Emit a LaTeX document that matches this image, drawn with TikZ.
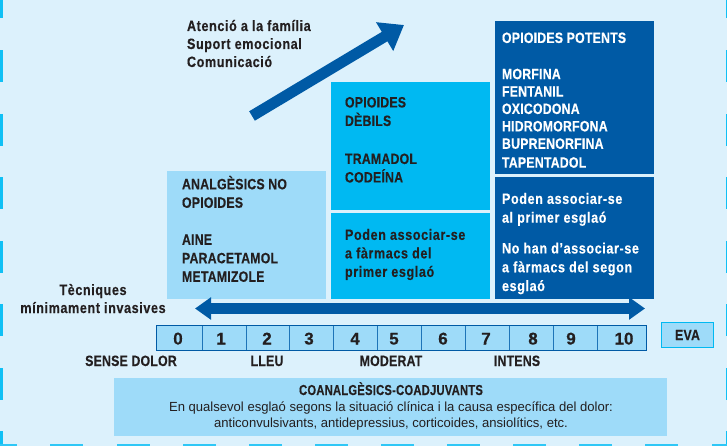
\documentclass[tikz,border=0pt]{standalone}
\usepackage{fontspec}
\setmainfont{Liberation Sans}
\newfontfamily\cond[FakeStretch=0.82,LetterSpace=1.5,BoldFeatures={FakeBold=0.3}]{Liberation Sans}
\newfontfamily\condl[FakeStretch=0.84,LetterSpace=4,BoldFeatures={FakeBold=0.3}]{Liberation Sans}
\newfontfamily\condn[FakeStretch=1.0,BoldFeatures={FakeBold=0.3}]{Liberation Sans}
\newfontfamily\condc[FakeStretch=0.78,LetterSpace=1.5,BoldFeatures={FakeBold=0.3}]{Liberation Sans}
\newfontfamily\condreg[FakeStretch=0.99]{Liberation Sans}
\usetikzlibrary{arrows.meta}
\definecolor{bgc}{HTML}{DCF1FC}
\definecolor{lightb}{HTML}{9EDBF9}
\definecolor{midb}{HTML}{00B9F2}
\definecolor{darkb}{HTML}{005AA5}
\definecolor{inkc}{HTML}{231F20}
\definecolor{dashc}{HTML}{10C0F5}
\definecolor{scalec}{HTML}{1E74B8}
\tikzset{
 x=1pt,y=-1pt,
 panel/.style={fill=#1,draw=none},
 lab/.style={inner sep=0pt,outer sep=0pt,anchor=north west,align=left,font=\cond\bfseries\fontsize{15}{18.5}\selectfont,text=inkc},
 labl/.style={lab,font=\condl\bfseries\fontsize{15}{18.5}\selectfont},
 tick/.style={inner sep=0pt,anchor=base,font=\condn\bfseries\fontsize{17}{17}\selectfont,text=inkc},
 caplab/.style={inner sep=0pt,anchor=base,font=\cond\bfseries\fontsize{15}{17}\selectfont,text=inkc},
 caplabl/.style={caplab,font=\condl\bfseries\fontsize{15}{17}\selectfont},
 bodyline/.style={inner sep=0pt,anchor=base,font=\condreg\fontsize{13.2}{16}\selectfont,text=inkc},
 bigarrow/.style={line width=11pt,draw=darkb},
}
\begin{document}
\begin{tikzpicture}
\useasboundingbox (0,0) rectangle (727,446);
\fill[bgc] (0,0) rectangle (727,446);
% dashed edge
\foreach \y/\h in {-14/32,50/32,114/32,177/32,241/32,304/32,368/32,431/32}{
  \fill[dashc] (0,\y) rectangle (3,\y+\h);
  \fill[dashc] (726,\y) rectangle (727,\y+\h);
}
\foreach \x in {-16,50,117,183,249,315,381,447,513,579,645,712}{
  \fill[dashc!85!bgc] (\x,444) rectangle (\x+33,446);
}
% panels
\fill[panel=lightb] (167,171) rectangle (326,299);
\fill[panel=midb] (331,82) rectangle (490,210);
\fill[panel=midb] (331,213) rectangle (490,299);
\fill[panel=darkb] (495,21) rectangle (654,174);
\fill[panel=darkb] (495,177) rectangle (654,299);
\fill[panel=lightb] (114,378) rectangle (667,436);
% arrows
\coordinate (dl) at (252,116);
\coordinate (dr) at (404,25);
\draw[bigarrow,-{Triangle[length=22.6pt,width=32pt]}] (dl) -- (dr);
\coordinate (hl) at (195,308.5);
\coordinate (hr) at (645,308.5);
\draw[bigarrow,{Triangle[length=16pt,width=21.5pt]}-{Triangle[length=16pt,width=21.5pt]}] (hl) -- (hr);
% scale
\fill[lightb] (156,325) rectangle (647,350.5);
\foreach \x in {202,246,289,333,377,421,465,509,553,597}{
  \draw[scalec,line width=1pt] (\x,325) -- (\x,350.5);
}
\draw[darkb,line width=1.3pt] (156.5,325.5) rectangle (646.5,350.5);
\foreach \x/\t in {178/0,221/1,267/2,309/3,355/4,394/5,443/6,486/7,533/8,571/9,624/10}{
  \node[tick] (t\t) at (\x,344.5) {\t};
}
\node[draw=midb,line width=1.5pt,fill=lightb,minimum width=52pt,minimum height=25pt,inner sep=0pt,
  font=\cond\bfseries\fontsize{15}{17}\selectfont,text=inkc] (eva) at (687.5,335) {EVA};
% text
\node[labl,font=\condl\bfseries\fontsize{15}{18}\selectfont] (fam) at (187,20) {Atenció a la família\\Suport emocional\\Comunicació};
\node[lab] (deb) at (345,97) {OPIOIDES\\DÈBILS\\[19.5pt]TRAMADOL\\CODEÍNA};
\node[labl] (ass) at (345,229) {Poden associar-se\\a fàrmacs del\\primer esglaó};
\node[lab] (noop) at (182,176) {ANALGÈSICS NO\\OPIOIDES\\[18.5pt]AINE\\PARACETAMOL\\METAMIZOLE};
\node[lab,text=white,font=\cond\bfseries\fontsize{15}{17.4}\selectfont] (pot) at (502,32.5) {OPIOIDES POTENTS\\[18.8pt]MORFINA\\FENTANIL\\OXICODONA\\HIDROMORFONA\\BUPRENORFINA\\[1.5pt]TAPENTADOL};
\node[labl,text=white,font=\condl\bfseries\fontsize{15}{18.8}\selectfont] (pod) at (502,193) {Poden associar-se\\al primer esglaó\\[12pt]No han d’associar-se\\a fàrmacs del segon\\esglaó};
\node[caplabl] (tec) at (93,295) {Tècniques};
\node[caplabl] (min) at (93,313) {mínimament invasives};
\node[caplab] (sd) at (131,366) {SENSE DOLOR};
\node[caplab] (ll) at (267,366) {LLEU};
\node[caplab] (mo) at (391,366) {MODERAT};
\node[caplab] (in) at (517,366) {INTENS};
\node[caplab,font=\condc\bfseries\fontsize{14.4}{17}\selectfont] (co) at (391,395) {COANALGÈSICS-COADJUVANTS};
\node[bodyline] (l1) at (391,411.5) {En qualsevol esglaó segons la situació clínica i la causa específica del dolor:};
\node[bodyline] (l2) at (391,427.5) {anticonvulsivants, antidepressius, corticoides, ansiolítics, etc.};
\end{tikzpicture}
\end{document}
